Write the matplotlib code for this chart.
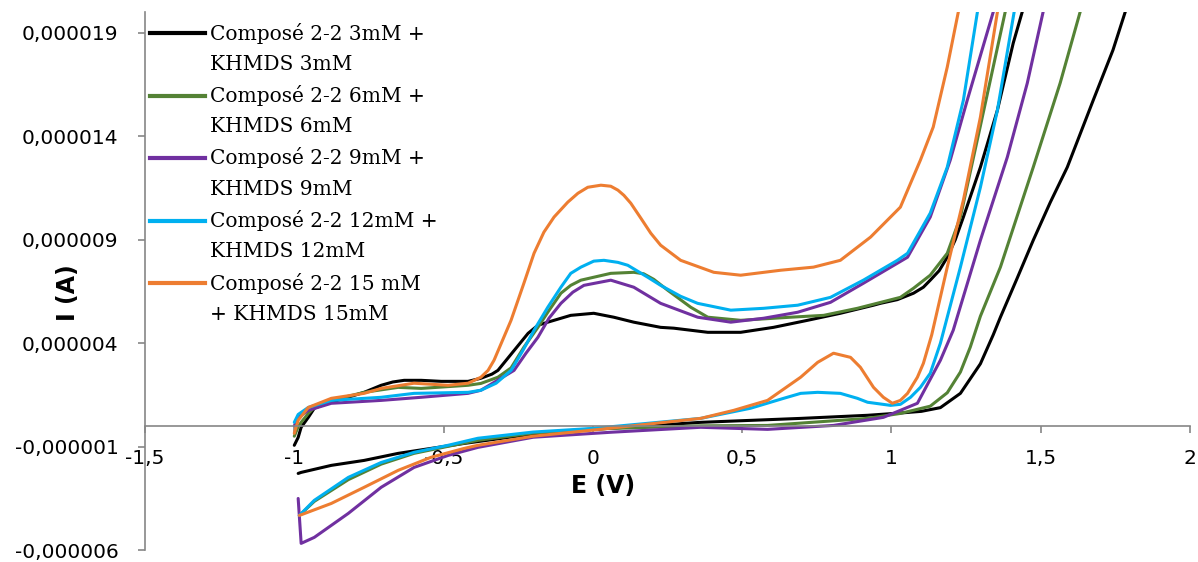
import matplotlib
matplotlib.use("Agg")
import matplotlib.pyplot as plt
import numpy as np
from matplotlib.ticker import FuncFormatter, FixedLocator

# Cyclic voltammograms, E in V, I in microampere (converted to A when plotted)
labels = [
    ("Composé 2-2 3mM +", "KHMDS 3mM"),
    ("Composé 2-2 6mM +", "KHMDS 6mM"),
    ("Composé 2-2 9mM +", "KHMDS 9mM"),
    ("Composé 2-2 12mM +", "KHMDS 12mM"),
    ("Composé 2-2 15 mM", "+ KHMDS 15mM"),
]
colors = ["#000000", "#548235", "#7030A0", "#00B0F0", "#ED7D31"]

# --- 3 mM ---
e_3_up = [-1.000, -0.987, -0.977, -0.953, -0.933, -0.900, -0.876, -0.820, -0.766, -0.709, -0.670,
          -0.632, -0.575, -0.508, -0.418, -0.375, -0.338, -0.318, -0.274, -0.217, -0.184, -0.151,
          -0.074, 0.003, 0.070, 0.137, 0.227, 0.271, 0.385, 0.495, 0.605, 0.719, 0.829, 0.940,
          0.963, 1.020, 1.074, 1.107, 1.130, 1.160, 1.187, 1.214, 1.241, 1.298, 1.355, 1.408,
          1.438, 1.446]
i_3_up = [-0.94, -0.56, -0.07, 0.41, 0.85, 1.04, 1.14, 1.38, 1.62, 1.96, 2.12,
          2.20, 2.20, 2.15, 2.15, 2.30, 2.50, 2.68, 3.46, 4.47, 4.86, 5.01,
          5.34, 5.44, 5.25, 5.01, 4.76, 4.72, 4.52, 4.52, 4.76, 5.10, 5.44, 5.83,
          5.92, 6.10, 6.41, 6.70, 7.04, 7.50, 8.15, 9.00, 10.09, 12.50, 15.26, 18.50,
          20.0, 20.4]
e_3_dn = [-0.987, -0.977, -0.876, -0.766, -0.652, -0.542, -0.431, -0.207, 0.003, 0.361, 0.696,
          0.920, 1.030, 1.100, 1.164, 1.231, 1.298, 1.341, 1.365, 1.421, 1.475, 1.532, 1.589,
          1.676, 1.742, 1.783, 1.790]
i_3_dn = [-2.30, -2.25, -1.91, -1.67, -1.33, -1.09, -0.85, -0.41, -0.17, 0.17, 0.36,
          0.51, 0.62, 0.70, 0.88, 1.57, 3.00, 4.40, 5.25, 7.13, 8.97, 10.80, 12.50,
          15.74, 18.16, 20.0, 20.4]

# --- 6 mM ---
e_6_up = [-1.000, -0.987, -0.977, -0.953, -0.933, -0.876, -0.766, -0.652, -0.575, -0.418, -0.375,
          -0.318, -0.274, -0.231, -0.184, -0.151, -0.107, -0.074, -0.040, 0.060, 0.137, 0.170,
          0.204, 0.251, 0.328, 0.385, 0.495, 0.662, 0.773, 0.886, 1.030, 1.074, 1.130, 1.187,
          1.231, 1.298, 1.381, 1.387]
i_6_up = [-0.50, -0.05, 0.17, 0.60, 0.89, 1.23, 1.62, 1.86, 1.81, 1.96, 2.05,
          2.35, 2.80, 3.80, 4.76, 5.49, 6.41, 6.79, 7.04, 7.37, 7.42, 7.35,
          7.08, 6.55, 5.73, 5.25, 5.10, 5.25, 5.34, 5.68, 6.21, 6.65, 7.28, 8.34,
          10.09, 14.50, 20.0, 20.4]
e_6_dn = [-0.983, -0.933, -0.819, -0.709, -0.599, -0.485, -0.385, -0.200, 0.003, 0.361, 0.585,
          0.920, 1.030, 1.130, 1.187, 1.231, 1.264, 1.298, 1.365, 1.475, 1.565, 1.632, 1.640]
i_6_dn = [-4.33, -3.65, -2.60, -1.85, -1.33, -0.99, -0.70, -0.35, -0.15, 0.00, 0.02,
          0.36, 0.60, 0.95, 1.60, 2.60, 3.80, 5.30, 7.67, 12.50, 16.56, 20.0, 20.4]

# --- 9 mM ---
e_9_up = [-1.000, -0.987, -0.953, -0.876, -0.709, -0.575, -0.418, -0.375, -0.264, -0.224, -0.184,
          -0.147, -0.107, -0.067, -0.030, 0.060, 0.137, 0.227, 0.351, 0.462, 0.572, 0.686,
          0.796, 0.906, 1.020, 1.054, 1.130, 1.197, 1.254, 1.341, 1.346]
i_9_up = [0.00, 0.40, 0.75, 1.09, 1.23, 1.38, 1.57, 1.72, 2.68, 3.51, 4.28,
          5.20, 5.92, 6.46, 6.79, 7.04, 6.70, 5.92, 5.25, 5.01, 5.20, 5.49,
          5.97, 6.89, 7.86, 8.15, 10.09, 12.84, 15.74, 20.0, 20.4]
e_9_dn = [-0.987, -0.977, -0.933, -0.819, -0.709, -0.599, -0.485, -0.385, -0.200, 0.060, 0.361,
          0.585, 0.806, 0.973, 1.087, 1.164, 1.207, 1.298, 1.388, 1.455, 1.508, 1.513]
i_9_dn = [-3.51, -5.68, -5.39, -4.23, -2.97, -2.01, -1.43, -1.04, -0.55, -0.31, -0.07,
          -0.17, 0.02, 0.41, 1.09, 3.17, 4.62, 8.97, 12.98, 16.56, 20.0, 20.4]

# --- 12 mM ---
e_12_up = [-1.000, -0.987, -0.953, -0.876, -0.709, -0.599, -0.418, -0.375, -0.324, -0.274, -0.234,
           -0.197, -0.151, -0.107, -0.074, -0.040, 0.003, 0.037, 0.084, 0.117, 0.184, 0.227,
           0.294, 0.351, 0.462, 0.572, 0.686, 0.796, 0.906, 1.020, 1.054, 1.130, 1.187, 1.241,
           1.288, 1.292]
i_12_up = [0.17, 0.55, 0.89, 1.23, 1.38, 1.57, 1.62, 1.72, 2.06, 2.68, 3.65,
           4.62, 5.73, 6.70, 7.37, 7.67, 7.96, 8.00, 7.90, 7.76, 7.18, 6.79,
           6.26, 5.92, 5.59, 5.68, 5.83, 6.21, 7.04, 8.00, 8.34, 10.28, 12.50, 15.74,
           20.0, 20.4]
e_12_dn = [-0.983, -0.933, -0.819, -0.709, -0.599, -0.485, -0.385, -0.200, 0.003, 0.361, 0.528,
           0.639, 0.696, 0.753, 0.829, 0.886, 0.920, 0.997, 1.030, 1.064, 1.097, 1.130, 1.164,
           1.231, 1.298, 1.355, 1.411, 1.415]
i_12_dn = [-4.33, -3.60, -2.49, -1.77, -1.28, -0.94, -0.60, -0.30, -0.12, 0.36, 0.85,
           1.33, 1.57, 1.62, 1.57, 1.33, 1.14, 0.99, 1.04, 1.38, 1.86, 2.54, 3.99,
           7.67, 11.53, 15.26, 20.0, 20.4]

# --- 15 mM ---
e_15_up = [-1.000, -0.987, -0.953, -0.876, -0.766, -0.709, -0.599, -0.485, -0.418, -0.375, -0.351,
           -0.331, -0.274, -0.231, -0.197, -0.164, -0.130, -0.084, -0.050, -0.017, 0.027, 0.060,
           0.084, 0.104, 0.127, 0.161, 0.194, 0.227, 0.294, 0.405, 0.495, 0.629, 0.739, 0.829,
           0.930, 1.030, 1.097, 1.140, 1.187, 1.224, 1.228]
i_15_up = [-0.36, 0.27, 0.89, 1.33, 1.57, 1.81, 2.06, 1.96, 2.06, 2.35, 2.68,
           3.17, 5.10, 6.89, 8.34, 9.36, 10.09, 10.81, 11.24, 11.53, 11.63, 11.58,
           11.39, 11.14, 10.76, 10.03, 9.31, 8.73, 8.00, 7.42, 7.28, 7.52, 7.67, 8.00,
           9.12, 10.57, 12.84, 14.44, 17.34, 20.0, 20.4]
e_15_dn = [-0.983, -0.876, -0.766, -0.652, -0.542, -0.431, -0.385, -0.200, 0.003, 0.361, 0.472,
           0.585, 0.696, 0.753, 0.806, 0.863, 0.896, 0.940, 0.973, 1.003, 1.030, 1.054, 1.087,
           1.107, 1.135, 1.187, 1.241, 1.298, 1.355, 1.359]
i_15_dn = [-4.33, -3.75, -2.97, -2.15, -1.52, -1.09, -0.94, -0.50, -0.20, 0.36, 0.75,
           1.23, 2.35, 3.07, 3.51, 3.31, 2.83, 1.86, 1.38, 1.09, 1.23, 1.57, 2.35,
           3.02, 4.40, 7.67, 10.91, 14.92, 20.0, 20.4]

series = [
    (e_3_up, i_3_up, e_3_dn, i_3_dn),
    (e_6_up, i_6_up, e_6_dn, i_6_dn),
    (e_9_up, i_9_up, e_9_dn, i_9_dn),
    (e_12_up, i_12_up, e_12_dn, i_12_dn),
    (e_15_up, i_15_up, e_15_dn, i_15_dn),
]

y_ticks = [-0.000006, -0.000001, 0.000004, 0.000009, 0.000014, 0.000019]
x_ticks = [-1.5, -1, -0.5, 0, 0.5, 1, 1.5, 2]

fig = plt.figure(figsize=(11.98, 5.62), dpi=100)
ax = fig.add_axes([145 / 1198, 1 - 550 / 562, (1190 - 145) / 1198, (550 - 12) / 562])

for (eu, iu, ed, idn), c in zip(series, colors):
    for e, i in [(eu, iu), (ed, idn)]:
        ax.plot(e, np.array(i) * 1e-6, color=c, lw=2.2,
                solid_capstyle="round", solid_joinstyle="round")

ax.set_xlim(-1.5, 2)
ax.set_ylim(-0.000006, 0.000020)

axis_grey = "#868686"
for s in ["top", "right"]:
    ax.spines[s].set_visible(False)
ax.spines["left"].set_color(axis_grey)
ax.spines["bottom"].set_color(axis_grey)
ax.spines["bottom"].set_position(("data", 0))
ax.spines["left"].set_linewidth(1.2)
ax.spines["bottom"].set_linewidth(1.2)

ax.yaxis.set_major_locator(FixedLocator(y_ticks))
ax.xaxis.set_major_locator(FixedLocator(x_ticks))


def fmt_comma(v, pos, nd):
    if nd == 0:
        s = f"{v:g}"
    else:
        s = f"{v:.{nd}f}"
    return s.replace(".", ",")


ax.yaxis.set_major_formatter(FuncFormatter(lambda v, p: fmt_comma(v, p, 6)))
ax.xaxis.set_major_formatter(FuncFormatter(lambda v, p: fmt_comma(v, p, 0)))
ax.tick_params(axis="both", direction="out", length=5, width=1.2, color=axis_grey,
               labelsize=14.5, labelcolor="black")
ax.tick_params(axis="y", pad=14)
ax.tick_params(axis="x", pad=12)

fig.text(603 / 1198, 1 - 486 / 562, "E (V)", fontsize=17, fontweight="bold",
         ha="center", va="center")
fig.text(68 / 1198, 1 - 293 / 562, "I (A)", fontsize=17, fontweight="bold",
         ha="center", va="center", rotation=90)

# legend, drawn by hand so the handle sits on the first text line
x0, x1, xt = 150 / 1198, 205 / 1198, 210 / 1198
for k, ((l1, l2), c) in enumerate(zip(labels, colors)):
    y1 = 1 - (33 + 62.5 * k) / 562
    y2 = 1 - (64 + 62.5 * k) / 562
    fig.add_artist(plt.Line2D([x0, x1], [y1, y1], color=c, lw=3))
    fig.text(xt, y1, l1, fontsize=14.5, family="DejaVu Serif", va="center", ha="left")
    fig.text(xt, y2, l2, fontsize=14.5, family="DejaVu Serif", va="center", ha="left")

fig.savefig("out.png", dpi=100)
